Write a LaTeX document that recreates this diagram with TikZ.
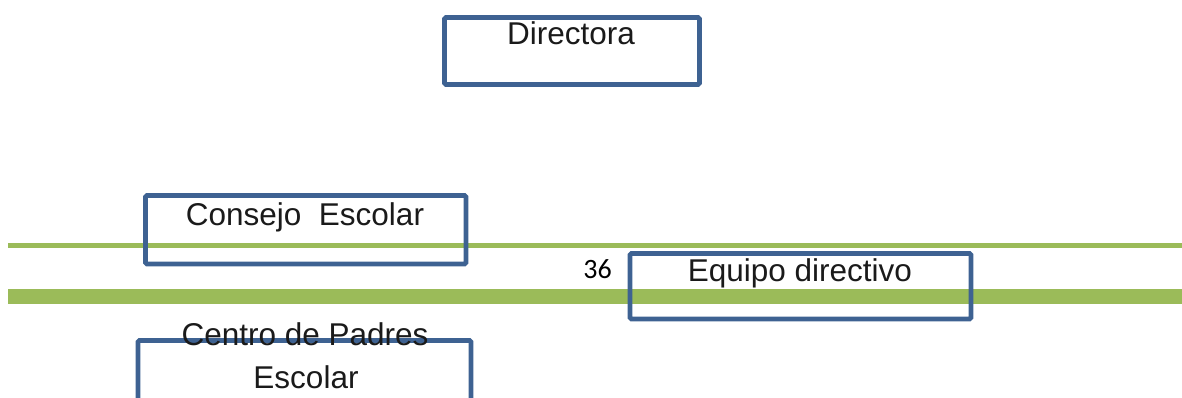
\documentclass[tikz,border=0pt]{standalone}
\usepackage{fontspec}
\setmainfont{Liberation Sans}
\newfontfamily\digitfont{Carlito}
\definecolor{boxblue}{HTML}{3E6292}
\definecolor{bargreen}{HTML}{9BBB59}
\definecolor{txtgray}{HTML}{1A1A1A}
\begin{document}
\begin{tikzpicture}[x=1pt,y=-1pt,
  orgbox/.style={draw=boxblue,line width=4.8pt,rounded corners=1.5pt,inner sep=0pt,rectangle},
  orgtxt/.style={anchor=base,inner sep=0pt,text=txtgray,font=\fontsize{31.5}{38}\selectfont},
  pagenum/.style={anchor=base,inner sep=0pt,text=black,font=\digitfont\fontsize{28}{33}\selectfont},
  thinbar/.style={draw=bargreen,line width=4.5pt},
  thickbar/.style={draw=bargreen,line width=15pt}]
\useasboundingbox (0,0) rectangle (1182,398);
\clip (0,0) rectangle (1182,398);
% green rules
\coordinate (t1) at (8,245.5);
\coordinate (t2) at (1190,245.5);
\coordinate (k1) at (8,296);
\coordinate (k2) at (1190,296);
\draw[thinbar] (t1) -- (t2);
\draw[thickbar] (k1) -- (k2);
% boxes
\node[orgbox,minimum width=255pt,minimum height=67pt] (dir) at (572,51) {};
\node[orgbox,minimum width=320.5pt,minimum height=68.5pt] (cons) at (305.75,229.75) {};
\node[orgbox,minimum width=341pt,minimum height=65.5pt] (equi) at (800.5,286.25) {};
\node[orgbox,minimum width=333pt,minimum height=79.5pt] (cent) at (304.5,380.25) {};
% texts
\node[orgtxt] (dirt) at (571,45) {Directora};
\node[orgtxt] (const) at (305,225) {Consejo\ \ Escolar};
\node[orgtxt] (equit) at (800,281) {Equipo directivo};
\node[orgtxt] (centa) at (305,345) {Centro de Padres};
\node[orgtxt] (centb) at (306,388) {Escolar};
\node[pagenum] (num) at (597.5,278) {36};
\end{tikzpicture}
\end{document}
